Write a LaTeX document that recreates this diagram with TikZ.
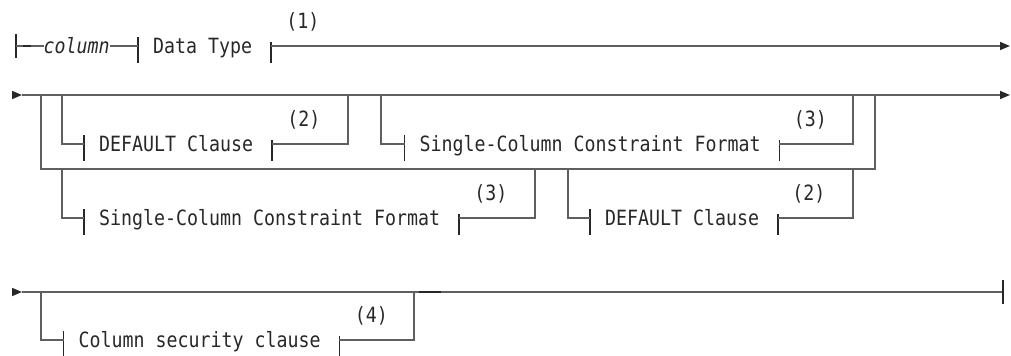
\documentclass[tikz,border=0pt]{standalone}
\usepackage{fontspec}
\setmonofont[FakeStretch=0.87]{DejaVu Sans Mono}
\usetikzlibrary{arrows.meta,calc}
\definecolor{railgray}{RGB}{95,95,95}
\definecolor{ink}{RGB}{40,40,40}

\begin{document}
\begin{tikzpicture}[
  x=1bp, y=-1bp,
  font=\ttfamily\fontsize{21bp}{23bp}\selectfont,
  txt/.style={anchor=west, inner sep=0pt, text height=15bp, text depth=0pt, text=ink},
  fn/.style={txt, anchor=center},
  rail/.style={draw=railgray, line width=1.5bp},
  bar/.style={draw=ink, line width=1.3bp},
  tip/.style={-{Triangle[length=10bp,width=8bp,color=ink]}}
]
\useasboundingbox (0,0) rectangle (1011,355);

% row 1
\coordinate (s1) at (16,46);
\coordinate (e1) at (1010,46);
\node[txt] (col) at (43.5,46) {\itshape column};
\node[txt] (dt)  at (153,46) {Data Type};

% row 2
\coordinate (s2) at (12,95);
\coordinate (a2) at (22,95);
\coordinate (e2) at (1010,95);
\coordinate (k1) at (41,95);
\coordinate (k2) at (62,95);
\coordinate (k3) at (348,95);
\coordinate (k4) at (381,95);
\coordinate (k5) at (853,95);
\coordinate (k6) at (875,95);
\coordinate (m1) at (41,169);
\coordinate (m2) at (62,169);
\coordinate (m3) at (535,169);
\coordinate (m4) at (568,169);
\coordinate (m5) at (853,169);
\coordinate (m6) at (875,169);
\node[txt] (defa) at (99,144)    {DEFAULT Clause};
\node[txt] (scca) at (419.5,144) {Single-Column Constraint Format};
\node[txt] (sccb) at (99,218)    {Single-Column Constraint Format};
\node[txt] (defb) at (605,218)   {DEFAULT Clause};

% row 3
\coordinate (s3) at (12,292);
\coordinate (a3) at (22,292);
\coordinate (e3) at (1003,292);
\coordinate (k7) at (41,292);
\coordinate (k8) at (414,292);
\node[txt] (csc) at (78.5,340) {Column security clause};

% fragment bars
\foreach \f in {dt,defa,scca,sccb,defb,csc} {
  \coordinate (\f-l) at ($(\f.west)+(-15,0)$);
  \coordinate (\f-r) at ($(\f.east)+(18.5,0)$);
  \draw[bar] (\f-l) ++(0,-9) -- ++(0,26);
  \draw[bar] (\f-r) ++(0,-4) -- ++(0,21);
}

% rails, row 1
\draw[bar] (s1) ++(0,-12) -- ++(0,24);
\draw[rail] (s1) -- (col.west);
\draw[bar] ($(s1)+(7,0)$) -- ++(8,0);
\draw[rail] (col.east) -- (dt-l);
\draw[rail,tip] (dt-r) -- (e1);
\node[fn] (n1) at ($(dt-r)+(32,-25)$) {(1)};

% rails, row 2
\draw[rail,tip] (s2) -- (a2);
\draw[rail,tip] (a2) -- (e2);
\draw[rail] (k1) -- (m1) -- (m6) -- (k6);
\draw[rail] (k2) |- (defa-l);
\draw[rail] (defa-r) -| (k3);
\draw[rail] (k4) |- (scca-l);
\draw[rail] (scca-r) -| (k5);
\draw[rail] (m2) |- (sccb-l);
\draw[rail] (sccb-r) -| (m3);
\draw[rail] (m4) |- (defb-l);
\draw[rail] (defb-r) -| (m5);
\node[fn] (n2a) at ($(defa-r)+(32,-25)$) {(2)};
\node[fn] (n3a) at ($(scca-r)+(31,-25)$) {(3)};
\node[fn] (n3b) at ($(sccb-r)+(32,-25)$) {(3)};
\node[fn] (n2b) at ($(defb-r)+(31,-25)$) {(2)};

% rails, row 3
\draw[rail,tip] (s3) -- (a3);
\draw[rail] (a3) -- (e3);
\draw[bar] (e3) ++(0,-12) -- ++(0,24);
\draw[rail] (k7) |- (csc-l);
\draw[rail] (csc-r) -| (k8);
\draw[bar] ($(k8)+(5,0)$) -- ++(22,0);
\node[fn] (n4) at ($(csc-r)+(32,-25)$) {(4)};
\end{tikzpicture}
\end{document}
